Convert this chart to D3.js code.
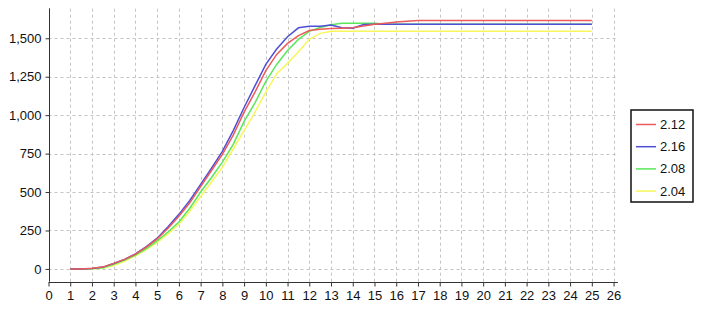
<!DOCTYPE html>
<html>
<head>
<meta charset="utf-8">
<script src="https://cdn.jsdelivr.net/npm/d3@7"></script>
<style>
  body { margin: 0; background: #fff; }
  svg { display: block; font-family: "Liberation Sans", Arial, sans-serif; }
</style>
</head>
<body>
<svg id="chart" width="705" height="314"></svg>
<script>
// x positions shared by every series
const xs = [1, 1.5, 2, 2.5, 3, 3.5, 4, 4.5, 5, 5.5, 6, 6.5, 7, 7.5, 8, 8.5, 9, 9.5, 10, 10.5,
  11, 11.5, 12, 12.5, 13, 13.5, 14, 14.5, 15, 15.5, 16, 16.5, 17, 17.5, 18, 18.5, 19, 19.5,
  20, 20.5, 21, 21.5, 22, 22.5, 23, 23.5, 24, 24.5, 25];

const seriesNames = ["2.12", "2.16", "2.08", "2.04"];
const seriesColors = ["#ec5a5a", "#4f4fd6", "#5ae85a", "#f7f75c"];

const s212 = [0, 0, 4, 12, 36, 62, 96, 142, 195, 265, 343, 430, 535, 640, 745, 870, 1020, 1150, 1290, 1395,
  1467, 1517, 1550, 1558, 1563, 1566, 1569, 1580, 1591, 1598, 1606, 1611, 1615, 1615, 1615, 1615, 1615, 1615,
  1615, 1615, 1615, 1615, 1615, 1615, 1615, 1615, 1615, 1615, 1615];
const s216 = [0, 0, 3, 12, 35, 62, 98, 145, 200, 275, 355, 445, 550, 655, 765, 900, 1050, 1190, 1330, 1430,
  1510, 1568, 1578, 1578, 1587, 1568, 1566, 1590, 1592, 1592, 1592, 1592, 1592, 1592, 1592, 1592, 1592, 1592,
  1592, 1592, 1592, 1592, 1592, 1592, 1592, 1592, 1592, 1592, 1592];
const s208 = [0, 0, 2, 8, 30, 57, 90, 132, 182, 240, 305, 395, 500, 595, 695, 810, 960, 1080, 1220, 1330,
  1420, 1493, 1545, 1570, 1588, 1598, 1598, 1598, 1597, 1593, 1592, 1592, 1592, 1592, 1592, 1592, 1592, 1592,
  1592, 1592, 1592, 1592, 1592, 1592, 1592, 1592, 1592, 1592, 1592];
const s204 = [0, 0, 1, 4, 22, 50, 85, 125, 172, 228, 290, 375, 470, 565, 660, 780, 900, 1020, 1150, 1270,
  1337, 1413, 1493, 1532, 1545, 1546, 1546, 1546, 1546, 1546, 1546, 1546, 1546, 1546, 1546, 1546, 1546, 1546,
  1546, 1546, 1546, 1546, 1546, 1546, 1546, 1546, 1546, 1546, 1546];

const xTicks = d3.range(0, 27);
const yTicks = [0, 250, 500, 750, 1000, 1250, 1500];

const seriesValues = [s212, s216, s208, s204];

const svg = d3.select("#chart");

const x = d3.scaleLinear().domain([0, 26.2]).range([48.5, 617.9]);
const y = d3.scaleLinear().domain([-83, 1695]).range([281.7, 8.3]);

// grid
const grid = svg.append("g")
  .attr("stroke", "#c4c4c4")
  .attr("stroke-width", 1)
  .attr("stroke-dasharray", "3,3");

grid.selectAll(".vgrid")
  .data(xTicks.slice(1))
  .enter()
  .append("line")
  .attr("x1", d => Math.round(x(d)) + 0.5)
  .attr("x2", d => Math.round(x(d)) + 0.5)
  .attr("y1", y(-83))
  .attr("y2", y(1695));

grid.selectAll(".hgrid")
  .data(yTicks)
  .enter()
  .append("line")
  .attr("x1", x(0))
  .attr("x2", x(26.2))
  .attr("y1", d => Math.round(y(d)) + 0.5)
  .attr("y2", d => Math.round(y(d)) + 0.5);

// axes
const xAxis = d3.axisBottom(x)
  .tickValues(xTicks)
  .tickSize(4)
  .tickPadding(4)
  .tickFormat(d3.format("d"));

const yAxis = d3.axisLeft(y)
  .tickValues(yTicks)
  .tickSize(4)
  .tickPadding(4)
  .tickFormat(d3.format(","));

const gx = svg.append("g")
  .attr("transform", `translate(0,${Math.round(y(-83)) + 0.5})`)
  .call(xAxis);
gx.select(".domain").attr("d", `M${x(0)},0H${x(26.2)}`).attr("stroke", "#333");

const gy = svg.append("g")
  .attr("transform", `translate(${Math.round(x(0)) + 0.5},0)`)
  .call(yAxis);
gy.select(".domain").attr("d", `M0,${y(1695)}V${y(-83)}`).attr("stroke", "#333");

svg.selectAll(".tick text")
  .style("font-size", "13px")
  .style("font-family", "'Liberation Sans', Arial, sans-serif")
  .attr("fill", "#111");
svg.selectAll(".tick line").attr("stroke", "#333");

// lines: drawn last-to-first so the first series ends on top
const line = d3.line()
  .x((d, i) => x(xs[i]))
  .y(d => y(d));

const order = d3.range(seriesNames.length).reverse();
svg.append("g")
  .selectAll("path")
  .data(order)
  .enter()
  .append("path")
  .attr("d", i => line(seriesValues[i]))
  .attr("fill", "none")
  .attr("stroke", i => seriesColors[i])
  .attr("stroke-width", 1.5);

// legend
const legend = svg.append("g").attr("transform", "translate(631,110)");
legend.append("rect")
  .attr("x", 0)
  .attr("y", 0)
  .attr("width", 62)
  .attr("height", 92)
  .attr("fill", "#fff")
  .attr("stroke", "#111")
  .attr("stroke-width", 1.5);

const items = legend.selectAll(".item")
  .data(seriesNames)
  .enter()
  .append("g")
  .attr("transform", (d, i) => `translate(0,${14.5 + i * 22.2})`);

items.append("line")
  .attr("x1", 5)
  .attr("x2", 25)
  .attr("y1", 0)
  .attr("y2", 0)
  .attr("stroke", (d, i) => seriesColors[i])
  .attr("stroke-width", 1.5);

items.append("text")
  .attr("x", 29)
  .attr("y", 4.5)
  .style("font-size", "13px")
  .attr("fill", "#111")
  .text(d => d);
</script>
</body>
</html>
